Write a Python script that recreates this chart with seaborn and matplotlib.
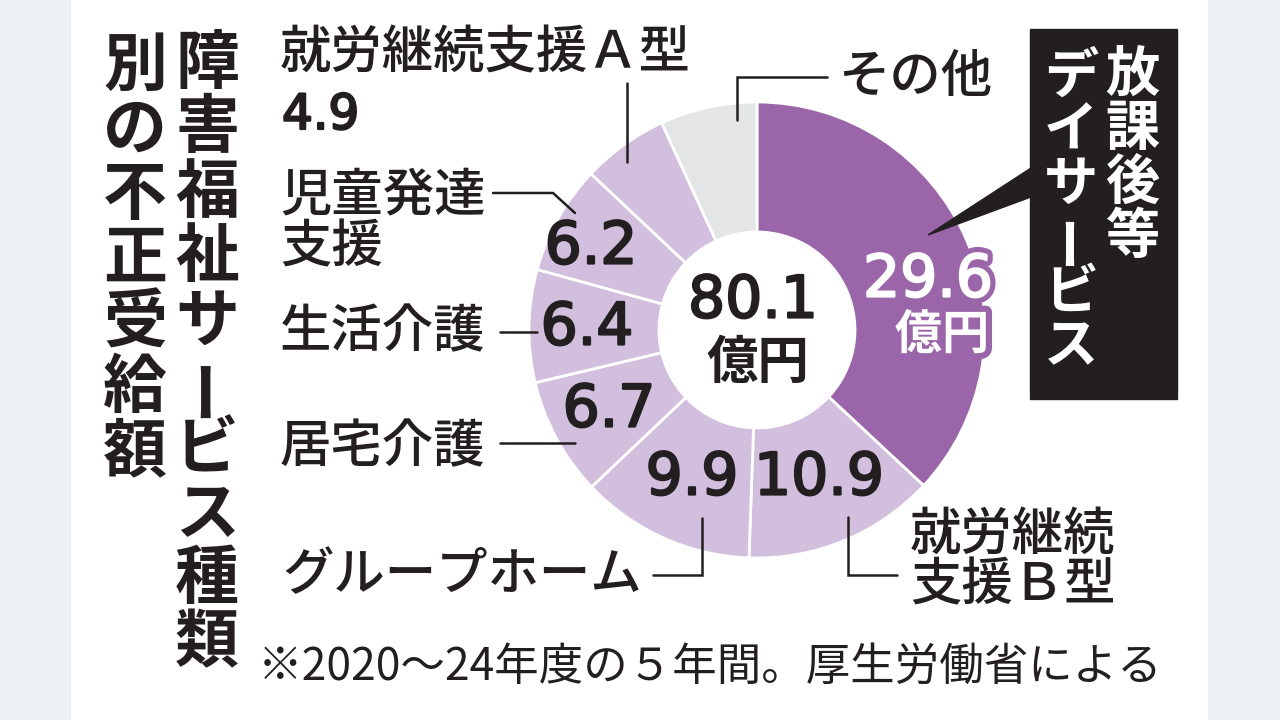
"""
Donut chart of improper payments by disability welfare service type
(FY2020-24, 5 years total, 80.1 oku yen).
"""
import pandas as pd
import seaborn as sns
import matplotlib.pyplot as plt
import matplotlib.patheffects as pe
from matplotlib.patches import Rectangle, Polygon

sns.set_theme(style="white")
plt.rcParams["font.family"] = ["Noto Sans CJK JP", "DejaVu Sans"]

# data (oku yen), clockwise from 12 o'clock
services = ["放課後等デイサービス", "就労継続支援Ｂ型", "グループホーム", "居宅介護",
            "生活介護", "児童発達支援", "就労継続支援Ａ型", "その他"]
amounts = [29.6, 10.9, 9.9, 6.7, 6.4, 6.2, 4.9, 5.5]
total_label = "80.1"

title_col1 = "障害福祉サービス種類"
title_col2 = "別の不正受給額"
callout_col1 = "放課後等"
callout_col2 = "デイサービス"
footnote = "※2020～24年度の５年間。厚生労働省による"

df = pd.DataFrame({"service": services, "amount": amounts})

PURPLE = "#9b66a9"
LAVENDER = "#d2bedd"
GREY = "#e3e5e7"
INK = "#231f20"
BAND = "#edf1f4"
colors = [PURPLE] + [LAVENDER] * 6 + [GREY]

fig = plt.figure(figsize=(12.8, 7.2), dpi=100)
ax = fig.add_axes([0, 0, 1, 1])

# donut (y axis is flipped to pixel coords, so ccw in data = clockwise on screen)
cx, cy, r_out, r_in = 757, 330, 228, 98
ax.pie(df["amount"], colors=colors, startangle=-90, center=(cx, cy), radius=r_out,
       wedgeprops=dict(width=r_out - r_in, edgecolor="white", linewidth=2))
ax.set_xlim(0, 1280)
ax.set_ylim(720, 0)
ax.set_aspect("auto")
ax.axis("off")

# grey side bands
ax.add_patch(Rectangle((0, 0), 70, 720, color=BAND, zorder=0))
ax.add_patch(Rectangle((1208, 0), 72, 720, color=BAND, zorder=0))

# vertical title
def vertical(text, x, y0, step, **kw):
    for i, ch in enumerate(text):
        rot = 90 if ch == "ー" else 0
        ax.text(x, y0 + i * step, ch, ha="center", va="center", rotation=rot, **kw)

vertical(title_col1, 207, 64, 64.4, fontsize=46, fontweight="bold", color=INK)
vertical(title_col2, 135, 66, 64.4, fontsize=46, fontweight="bold", color=INK)

# callout box
ax.add_patch(Rectangle((1030, 29), 147, 370, color=INK, zorder=3))
ax.add_patch(Polygon([(928, 235), (1031, 168), (1031, 197)], closed=True, color=INK, zorder=3))
vertical(callout_col1, 1132, 75, 54, fontsize=39, fontweight="bold", color="white", zorder=4)
vertical(callout_col2, 1071, 77, 54, fontsize=39, fontweight="bold", color="white", zorder=4)

# category labels
lab = dict(fontsize=37, fontweight="medium", color=INK, ha="left", va="center")
ax.text(280, 53, "就労継続支援Ａ型", **lab)
ax.text(280, 195, "児童発達", **lab)
ax.text(280, 247, "支援", **lab)
ax.text(280, 332, "生活介護", **lab)
ax.text(280, 447, "居宅介護", **lab)
ax.text(282, 575, "グループホーム", **lab)
ax.text(910, 535, "就労継続", **lab)
ax.text(910, 585, "支援Ｂ型", **lab)
ax.text(838, 77, "その他", **lab)

# values (regular weight, thickened a little with a thin stroke)
heavy = [pe.withStroke(linewidth=1.6, foreground=INK)]
num = dict(fontsize=42, color=INK, ha="center", va="center", family="DejaVu Sans",
           path_effects=heavy)
ax.text(282, 115, f"{df.amount[6]}", fontsize=35, color=INK, ha="left", va="center",
        family="DejaVu Sans", path_effects=heavy)
ax.text(591, 247, f"{df.amount[5]}", **num)
ax.text(587, 328, f"{df.amount[4]}", **num)
ax.text(609, 410, f"{df.amount[3]}", **num)
ax.text(692, 478, f"{df.amount[2]}", **num)
ax.text(819, 478, f"{df.amount[1]}", **num)
ax.text(753, 301, total_label, **num)
ax.text(758, 362, "億円", fontsize=37, fontweight="bold", color=INK, ha="center", va="center")

outline = [pe.Stroke(linewidth=9, foreground=PURPLE),
           pe.Stroke(linewidth=1.6, foreground="white"), pe.Normal()]
ax.text(928, 280, f"{df.amount[0]}", fontsize=42, color="white",
        ha="center", va="center", family="DejaVu Sans", path_effects=outline)
ax.text(942, 335, "億円", fontsize=34, fontweight="bold", color="white", ha="center",
        va="center", path_effects=[pe.withStroke(linewidth=9, foreground=PURPLE)])

# leader lines
lines = [
    [(627, 83), (627, 162)],
    [(493, 193), (553, 193), (575, 213)],
    [(827, 77), (737, 77), (737, 120)],
    [(500, 332), (537, 332)],
    [(500, 443), (575, 443)],
    [(653, 575), (702, 575), (702, 518)],
    [(848, 517), (848, 575), (897, 575)],
]
for pts in lines:
    xs, ys = zip(*pts)
    ax.plot(xs, ys, color=INK, lw=1.8, solid_joinstyle="miter")

ax.text(258, 667, footnote, fontsize=32, color=INK, ha="left", va="center")

plt.savefig("out.png", dpi=100)
